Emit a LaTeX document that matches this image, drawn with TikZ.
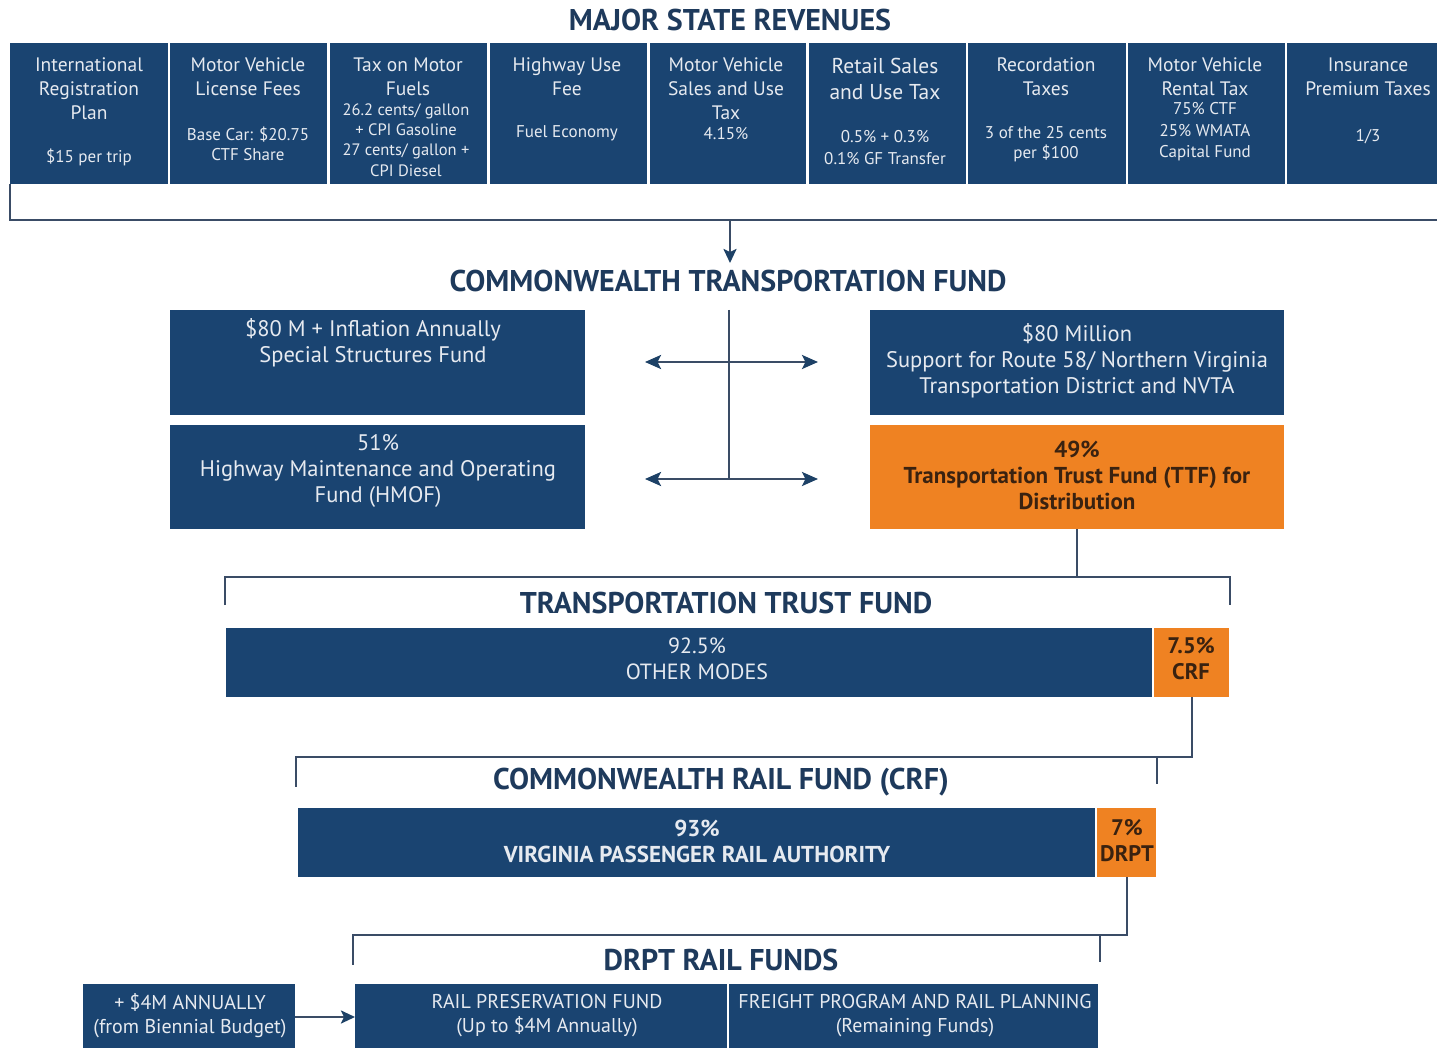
\documentclass[tikz,border=0pt]{standalone}
\usepackage{fontspec}
\setmainfont{PT Sans}
\usetikzlibrary{arrows.meta}
\definecolor{navy}{HTML}{1A4471}
\definecolor{orng}{HTML}{EF8222}
\definecolor{ttl}{HTML}{1E3A5C}
\definecolor{lt}{HTML}{E6EAF0}
\definecolor{dk}{HTML}{3A2210}
\definecolor{lnc}{HTML}{3A4C66}
\definecolor{tipc}{HTML}{1D4166}
\begin{document}
\begin{tikzpicture}[x=1pt,y=-1pt,
  box/.style={fill=navy, draw=none, anchor=north west, inner sep=0pt, outer sep=0pt},
  obox/.style={box, fill=orng},
  hd/.style={text=lt, align=center, inner sep=0pt, font=\fontsize{19.5}{24}\selectfont},
  sm/.style={text=lt, align=center, inner sep=0pt, font=\fontsize{17}{21.5}\selectfont},
  mid/.style={text=lt, align=center, inner sep=0pt, font=\fontsize{22.5}{26}\selectfont},
  midb/.style={text=dk, align=center, inner sep=0pt, font=\bfseries\fontsize{23}{26}\selectfont},
  bar/.style={text=lt, align=center, inner sep=0pt, font=\fontsize{22}{26}\selectfont},
  barb/.style={text=lt, align=center, inner sep=0pt, font=\bfseries\fontsize{23}{26}\selectfont},
  bard/.style={text=dk, align=center, inner sep=0pt, font=\bfseries\fontsize{22.5}{26}\selectfont},
  bot/.style={text=lt, align=center, inner sep=0pt, font=\fontsize{20}{24}\selectfont},
  ttlst/.style={text=ttl, inner sep=0pt, font=\bfseries\fontsize{30}{32}\selectfont},
  lnk/.style={draw=lnc, line width=2pt},
  arr/.style={draw=lnc, line width=2.4pt, -{Stealth[length=14pt,width=13pt,inset=3pt,color=tipc]}},
  darr/.style={draw=lnc, line width=2.6pt, {Stealth[length=16pt,width=14pt,inset=3.5pt,color=tipc]}-{Stealth[length=16pt,width=14pt,inset=3.5pt,color=tipc]}}
]
\useasboundingbox[fill=white] (0,0) rectangle (1437,1048);
\clip (0,0) rectangle (1437,1048);

% ---------- Major state revenues ----------
\node[ttlst] (msr) at (730,20) {MAJOR STATE REVENUES};

\node[box, minimum width=158pt, minimum height=141pt] (b1) at (10,43) {};
\node[box, minimum width=157pt, minimum height=141pt] (b2) at (170,43) {};
\node[box, minimum width=157pt, minimum height=141pt] (b3) at (330,43) {};
\node[box, minimum width=157pt, minimum height=141pt] (b4) at (490,43) {};
\node[box, minimum width=156pt, minimum height=141pt] (b5) at (650,43) {};
\node[box, minimum width=157pt, minimum height=141pt] (b6) at (809,43) {};
\node[box, minimum width=158pt, minimum height=141pt] (b7) at (968,43) {};
\node[box, minimum width=157pt, minimum height=141pt] (b8) at (1128,43) {};
\node[box, minimum width=170pt, minimum height=141pt] (b9) at (1287,43) {};

\node[hd] (h1) at (89,89) {International\\Registration\\Plan};
\node[sm] (d1) at (89,157) {\$15 per trip};
\node[hd] (h2) at (248,77) {Motor Vehicle\\License Fees};
\node[sm] (d2) at (248,144) {Base Car: \$20.75\\[-1pt]CTF Share};
\node[hd] (h3) at (408,77) {Tax on Motor\\Fuels};
\node[sm, font=\fontsize{16.5}{20.3}\selectfont] (d3) at (406,140) {26.2 cents/ gallon\\+ CPI Gasoline\\27 cents/ gallon +\\CPI Diesel};
\node[hd] (h4) at (567,77) {Highway Use\\Fee};
\node[sm] (d4) at (567,133) {Fuel Economy};
\node[hd] (h5) at (726,89) {Motor Vehicle\\Sales and Use\\Tax};
\node[sm] (d5) at (726,134) {4.15\%};
\node[hd, font=\fontsize{21.5}{26}\selectfont] (h6) at (885,79) {Retail Sales\\and Use Tax};
\node[sm] (d6) at (885,147.5) {0.5\% + 0.3\%\\0.1\% GF Transfer};
\node[hd] (h7) at (1046,77) {Recordation\\Taxes};
\node[sm] (d7) at (1046,144) {3 of the 25 cents\\[-1pt]per \$100};
\node[hd] (h8) at (1205,77) {Motor Vehicle\\Rental Tax};
\node[sm] (d8) at (1205,132) {75\% CTF\\25\% WMATA\\Capital Fund};
\node[hd] (h9) at (1368,77) {Insurance\\Premium Taxes};
\node[sm] (d9) at (1368,137) {1/3};

\coordinate (brL) at (10,220);
\coordinate (brM) at (730,220);
\coordinate (brR) at (1445,220);
\coordinate (arrE) at (730,263);
\draw[lnk] (b1.south west) -- (brL) -- (brR);

% ---------- Commonwealth Transportation Fund ----------
\node[ttlst] (ctf) at (728,281) {COMMONWEALTH TRANSPORTATION FUND};
\draw[arr] (brM) -- (arrE);

\node[box, minimum width=415pt, minimum height=105pt] (ssf) at (170,310) {};
\node[box, minimum width=415pt, minimum height=104pt] (hmof) at (170,425) {};
\node[box, minimum width=414pt, minimum height=105pt] (r58) at (870,310) {};
\node[obox, minimum width=414pt, minimum height=104pt] (ttf) at (870,425) {};

\node[mid] (ssft) at (373,343) {\$80 M + Inflation Annually\\Special Structures Fund};
\node[mid] (hmoft) at (378,470.5) {51\%\\Highway Maintenance and Operating\\Fund (HMOF)};
\node[mid] (r58t) at (1077,361) {\$80 Million\\Support for Route 58/ Northern Virginia\\Transportation District and NVTA};
\node[midb] (ttft) at (1077,475) {49\%\\Transportation Trust Fund (TTF) for\\Distribution};

\coordinate (vTop) at (729,310);
\coordinate (vBot) at (729,479);
\coordinate (a1L) at (645,362);
\coordinate (a1R) at (818,362);
\coordinate (a2L) at (645,479);
\coordinate (a2R) at (818,479);
\draw[lnk] (vTop) -- (vBot);
\draw[darr] (a1L) -- (a1R);
\draw[darr] (a2L) -- (a2R);

% ---------- Transportation Trust Fund ----------
\coordinate (t1L) at (225,577);
\coordinate (t1R) at (1230,577);
\coordinate (t1Ld) at (225,605);
\coordinate (t1Rd) at (1230,605);
\draw[lnk] (ttf.south) -- (ttf.south |- t1L);
\draw[lnk] (t1Ld) -- (t1L) -- (t1R) -- (t1Rd);
\node[ttlst] (ttftl) at (726,603) {TRANSPORTATION TRUST FUND};

\node[box, minimum width=926pt, minimum height=69pt] (om) at (226,628) {};
\node[obox, minimum width=75pt, minimum height=69pt] (crf) at (1154,628) {};
\node[bar] (omt) at (697,659) {92.5\%\\OTHER MODES};
\node[bard] (crft) at (1191,659) {7.5\%\\CRF};

% ---------- Commonwealth Rail Fund ----------
\coordinate (c1L) at (296,757);
\coordinate (c1R) at (1157,757);
\coordinate (c1Ld) at (296,787);
\coordinate (c1Rd) at (1157,784);
\draw[lnk] (crf.south) -- (crf.south |- c1L) -- (c1L) -- (c1Ld);
\draw[lnk] (c1R) -- (c1Rd);
\node[ttlst] (crftl) at (721,782) {COMMONWEALTH RAIL FUND (CRF)};

\node[box, minimum width=797pt, minimum height=69pt] (vpra) at (298,808) {};
\node[obox, minimum width=59pt, minimum height=69pt] (drpt) at (1097,808) {};
\node[barb] (vprat) at (697,841) {93\%\\VIRGINIA PASSENGER RAIL AUTHORITY};
\node[bard] (drptt) at (1127,841) {7\%\\DRPT};

% ---------- DRPT Rail Funds ----------
\coordinate (d1L) at (353,935);
\coordinate (d1R) at (1100,935);
\coordinate (d1Ld) at (353,965);
\coordinate (d1Rd) at (1100,962);
\draw[lnk] (drpt.south) -- (drpt.south |- d1L) -- (d1L) -- (d1Ld);
\draw[lnk] (d1R) -- (d1Rd);
\node[ttlst] (drtl) at (721,960) {DRPT RAIL FUNDS};

\node[box, minimum width=212pt, minimum height=80pt] (ann) at (83,984) {};
\node[box, minimum width=372pt, minimum height=80pt] (rpf) at (355,984) {};
\node[box, minimum width=369pt, minimum height=80pt] (frp) at (729,984) {};
\node[bot] (annt) at (190,1016) {+ \$4M ANNUALLY\\(from Biennial Budget)};
\node[bot] (rpft) at (547,1016) {RAIL PRESERVATION FUND\\(Up to \$4M Annually)};
\node[bot] (frpt) at (915,1016) {FREIGHT PROGRAM AND RAIL PLANNING\\(Remaining Funds)};
\draw[arr] (ann.east |- 0,1017) -- (rpf.west |- 0,1017);
\end{tikzpicture}
\end{document}
